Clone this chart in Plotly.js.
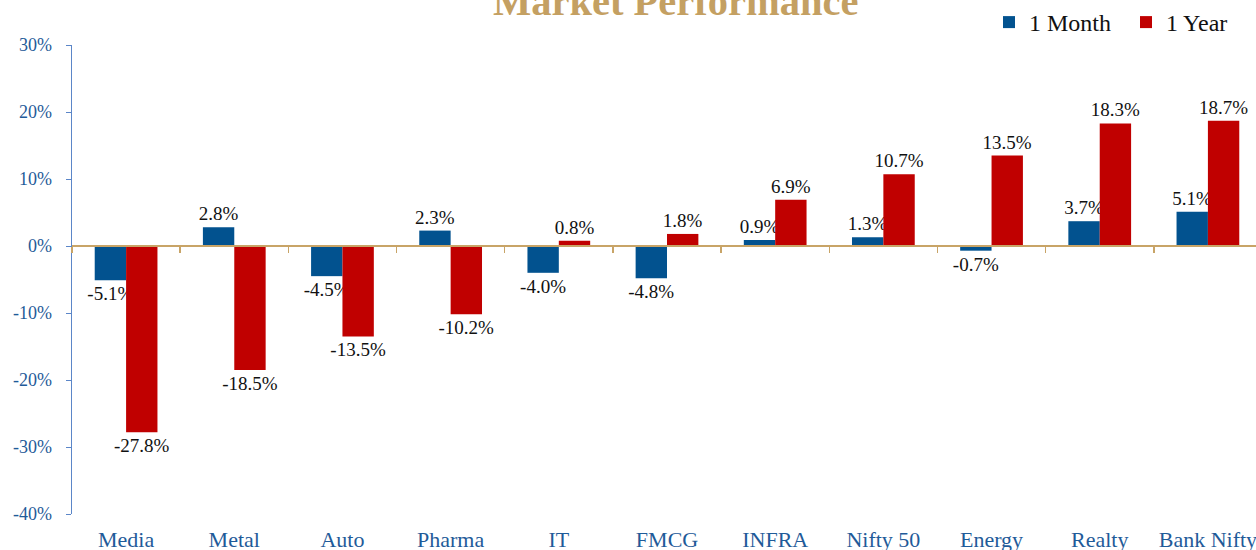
<!DOCTYPE html>
<html>
<head>
<meta charset="utf-8">
<script src="https://cdn.plot.ly/plotly-3.0.1.min.js"></script>
<style>html,body{margin:0;padding:0;background:#fff;overflow:hidden;}</style>
</head>
<body>
<div id="chart" style="width:1262px;height:550px;"></div>
<script>
const categories = ["Media","Metal","Auto","Pharma","IT","FMCG","INFRA","Nifty 50","Energy","Realty","Bank Nifty"];
const oneMonth = [-5.1, 2.8, -4.5, 2.3, -4.0, -4.8, 0.9, 1.3, -0.7, 3.7, 5.1];
const oneYear = [-27.8, -18.5, -13.5, -10.2, 0.8, 1.8, 6.9, 10.7, 13.5, 18.3, 18.7];
const seriesNames = ["1 Month", "1 Year"];
const yTickVals = [-40, -30, -20, -10, 0, 10, 20, 30];
const yTickText = ["-40%", "-30%", "-20%", "-10%", "0%", "10%", "20%", "30%"];
const titleText = "Market Performance";

const serif = "Liberation Serif, Times New Roman, serif";
const fmt = v => v.toFixed(1) + "%";
const W = 1262, L = 72, PW = W - L;

const traces = [
  {type: "bar", name: seriesNames[0], x: categories, y: oneMonth, legendwidth: 92,
   marker: {color: "#02528F"}, text: oneMonth.map(fmt), textposition: "outside",
   textfont: {family: serif, size: 19, color: "#111"}, cliponaxis: false, constraintext: "none"},
  {type: "bar", name: seriesNames[1], x: categories, y: oneYear,
   marker: {color: "#C00000"}, text: oneYear.map(fmt), textposition: "outside",
   textfont: {family: serif, size: 19, color: "#111"}, cliponaxis: false, constraintext: "none"}
];

const layout = {
  width: W, height: 550,
  margin: {l: L, r: 0, t: 44, b: 36, pad: 0},
  paper_bgcolor: "#fff", plot_bgcolor: "#fff",
  barmode: "group", bargap: 0.42, bargroupgap: 0,
  font: {family: serif},
  showlegend: true,
  legend: {orientation: "h", x: (1233 - L) / PW, xanchor: "right", y: 1.047, yanchor: "middle",
           font: {family: serif, size: 24, color: "#111"}, bgcolor: "rgba(0,0,0,0)",
           itemwidth: 30, tracegroupgap: 0},
  xaxis: {type: "category", anchor: "free", position: 40/70, side: "bottom",
          showline: true, linecolor: "#C8A467", linewidth: 2,
          ticks: "outside", tickson: "boundaries", ticklen: 6, tickcolor: "#C8A467", tickwidth: 1.5,
          showgrid: false, zeroline: false, automargin: false, tickangle: 0,
          ticklabelstandoff: 274,
          tickfont: {family: serif, size: 22, color: "#1F5B99"}},
  yaxis: {range: [-40, 30], tickvals: yTickVals, ticktext: yTickText,
          showline: true, linecolor: "#5B86C8", linewidth: 1.5,
          ticks: "outside", ticklen: 5, tickcolor: "#5B86C8",
          showgrid: false, zeroline: false, automargin: false,
          ticklabelstandoff: 10,
          tickfont: {family: serif, size: 18, color: "#1F5B99"}},
  annotations: [{text: "<b>" + titleText + "</b>", xref: "paper", yref: "paper",
                 x: (675 - L) / PW, y: 1.041, xanchor: "center", yanchor: "bottom",
                 showarrow: false, font: {family: serif, size: 40.5, color: "#C4A062"}}]
};

Plotly.newPlot("chart", traces, layout, {staticPlot: true, displayModeBar: false});
</script>
</body>
</html>
